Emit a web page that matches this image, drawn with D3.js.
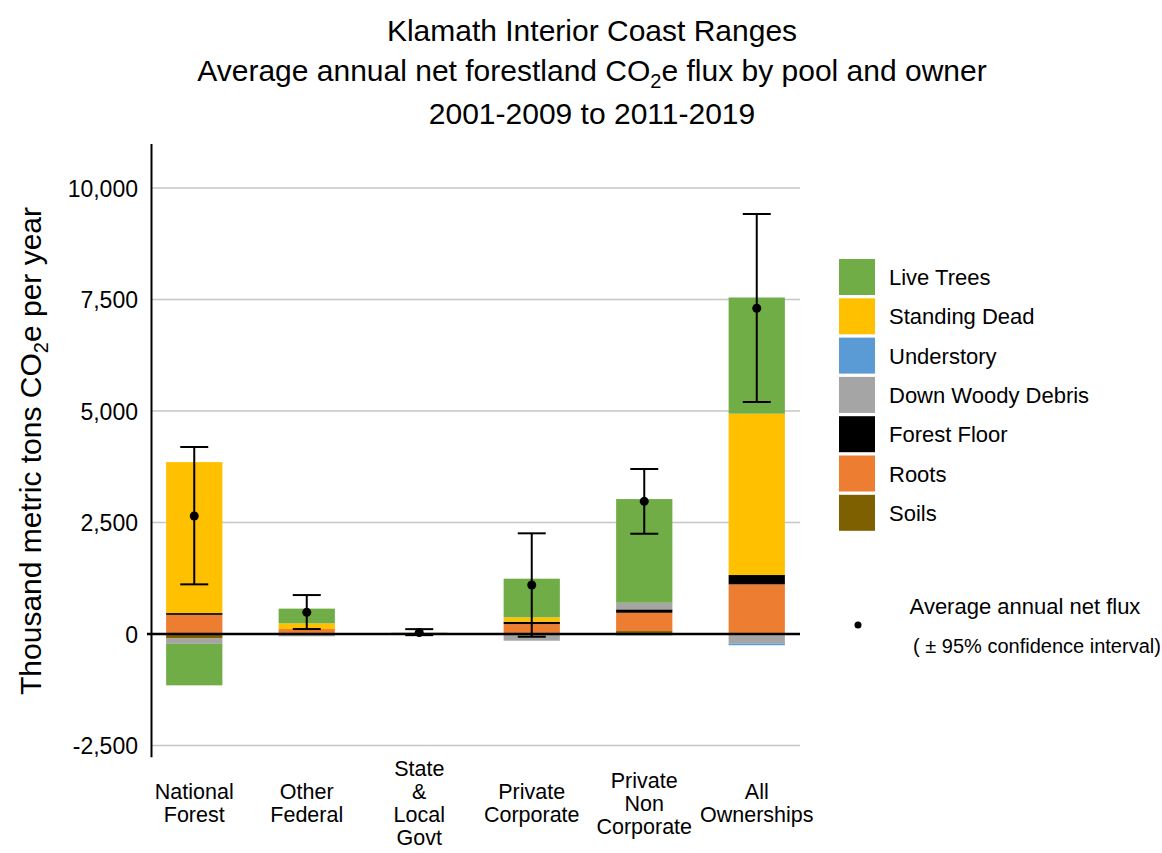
<!DOCTYPE html>
<html>
<head>
<meta charset="utf-8">
<script src="https://cdn.jsdelivr.net/npm/d3@7"></script>
<style>
  html, body { margin: 0; padding: 0; background: #fff; }
  svg text { font-family: "Liberation Sans", Arial, sans-serif; fill: #000; }
</style>
</head>
<body>
<svg id="chart" width="1162" height="853"></svg>
<script>
// Ownership groups and their multi-line axis labels
const owners = ["National Forest", "Other Federal", "State & Local Govt", "Private Corporate", "Private Non Corporate", "All Ownerships"];
const ownerLabelLines = [["National", "Forest"], ["Other", "Federal"], ["State", "&", "Local", "Govt"], ["Private", "Corporate"], ["Private", "Non", "Corporate"], ["All", "Ownerships"]];

// Net flux by carbon pool (thousand metric tons CO2e per year), one value per owner
const liveTrees       = [-930, 330, 22, 866, 2325, 2605];
const standingDead    = [3385, 128, 8, 99, 0, 3617];
const understory      = [0, 0, 0, 0, -30, -40];
const downWoodyDebris = [-120, -50, -10, -150, 148, -186];
const forestFloor     = [40, 0, 0, 52, 76, 209];
const roots           = [430, 112, 0, 224, 410, 1114];
const soils           = [-100, 0, 0, 0, 67, -25];

// Average annual net flux with 95% confidence bounds
const netFlux  = [2646, 487, 35, 1099, 2975, 7303];
const ciUpper  = [4193, 874, 110, 2258, 3700, 9417];
const ciLower  = [1114, 112, -25, -60, 2249, 5202];

// Y axis ticks
const yTicks = [-2500, 0, 2500, 5000, 7500, 10000];
const yTickLabels = ["-2,500", "0", "2,500", "5,000", "7,500", "10,000"];

// Pools in legend order, with colours
const poolNames  = ["Live Trees", "Standing Dead", "Understory", "Down Woody Debris", "Forest Floor", "Roots", "Soils"];
const poolValues = [liveTrees, standingDead, understory, downWoodyDebris, forestFloor, roots, soils];
const poolColors = ["#70AD47", "#FFC000", "#5B9BD5", "#A5A5A5", "#000000", "#ED7D31", "#7F6000"];

const svg = d3.select("#chart");

const x = d3.scaleBand().domain(owners).range([138, 813]).paddingInner(0.5).paddingOuter(0.25);
const y = d3.scaleLinear().domain([-2750, 11000]).range([756.7, 143.4]);
const color = d3.scaleOrdinal().domain(poolNames).range(poolColors);

// Rows for stacking: one object per owner
const rows = owners.map((o, i) => {
  const r = { owner: o };
  poolNames.forEach((p, k) => { r[p] = poolValues[k][i]; });
  return r;
});

// Stack from the ground up: soils nearest zero, live trees outermost
const stackKeys = poolNames.slice().reverse();
const series = d3.stack().keys(stackKeys).offset(d3.stackOffsetDiverging)(rows);

// Gridlines
const gridLeft = 151, gridRight = 800;
svg.append("g").selectAll("line")
  .data(yTicks.filter(d => d !== 0))
  .join("line")
  .attr("x1", gridLeft).attr("x2", gridRight)
  .attr("y1", d => y(d)).attr("y2", d => y(d))
  .attr("stroke", "#c6c6c6").attr("stroke-width", 1.6);

// Stacked bars
svg.append("g").selectAll("g")
  .data(series)
  .join("g")
  .attr("fill", s => color(s.key))
  .selectAll("rect")
  .data(s => s.map(d => ({ d, owner: d.data.owner })))
  .join("rect")
  .attr("x", v => x(v.owner))
  .attr("width", x.bandwidth())
  .attr("y", v => y(Math.max(v.d[0], v.d[1])))
  .attr("height", v => Math.abs(y(v.d[0]) - y(v.d[1])));

// Zero line
svg.append("line")
  .attr("x1", 147).attr("x2", gridRight)
  .attr("y1", y(0)).attr("y2", y(0))
  .attr("stroke", "#000").attr("stroke-width", 2.5);

// Y axis
const yAxis = d3.axisLeft(y)
  .tickValues(yTicks)
  .tickFormat((d, i) => yTickLabels[i])
  .tickSize(0)
  .tickPadding(13);
const yAxisG = svg.append("g").attr("transform", `translate(${gridLeft},0)`).call(yAxis);
yAxisG.select(".domain").attr("stroke", "#000").attr("stroke-width", 2);
yAxisG.selectAll("text")
  .attr("font-size", 23)
  .attr("font-family", "Liberation Sans, Arial, sans-serif")
  .attr("fill", "#000")
  .attr("dy", "0.35em");

// Error bars and mean points
const cap = 14;
const eb = svg.append("g").attr("stroke", "#000").attr("stroke-width", 2);
owners.forEach((o, i) => {
  const cx = x(o) + x.bandwidth() / 2;
  eb.append("line").attr("x1", cx).attr("x2", cx).attr("y1", y(ciUpper[i])).attr("y2", y(ciLower[i]));
  eb.append("line").attr("x1", cx - cap).attr("x2", cx + cap).attr("y1", y(ciUpper[i])).attr("y2", y(ciUpper[i]));
  eb.append("line").attr("x1", cx - cap).attr("x2", cx + cap).attr("y1", y(ciLower[i])).attr("y2", y(ciLower[i]));
});
svg.append("g").selectAll("circle")
  .data(owners)
  .join("circle")
  .attr("cx", o => x(o) + x.bandwidth() / 2)
  .attr("cy", (o, i) => y(netFlux[i]))
  .attr("r", 4.5)
  .attr("fill", "#000");

// X category labels
const lineGap = 23, labelCenter = 803;
svg.append("g").selectAll("text")
  .data(owners)
  .join("text")
  .attr("text-anchor", "middle")
  .attr("font-size", 21.5)
  .each(function (o, i) {
    const lines = ownerLabelLines[i];
    const top = labelCenter - (lines.length - 1) * lineGap / 2;
    d3.select(this).selectAll("tspan")
      .data(lines)
      .join("tspan")
      .attr("x", x(o) + x.bandwidth() / 2)
      .attr("y", (l, k) => top + k * lineGap + 7.5)
      .text(l => l);
  });

// Y axis title
const yTitle = svg.append("text")
  .attr("transform", "translate(41,451) rotate(-90)")
  .attr("text-anchor", "middle")
  .attr("font-size", 30);
yTitle.append("tspan").text("Thousand metric tons CO");
yTitle.append("tspan").attr("font-size", 20).attr("dy", 7).text("2");
yTitle.append("tspan").attr("dy", -7).text("e per year");

// Chart title
const titleX = 592;
svg.append("text").attr("x", titleX).attr("y", 41).attr("text-anchor", "middle").attr("font-size", 30)
  .text("Klamath Interior Coast Ranges");
const t2 = svg.append("text").attr("x", titleX).attr("y", 81).attr("text-anchor", "middle").attr("font-size", 30);
t2.append("tspan").text("Average annual net forestland CO");
t2.append("tspan").attr("font-size", 20).attr("dy", 7).text("2");
t2.append("tspan").attr("dy", -7).text("e flux by pool and owner");
svg.append("text").attr("x", titleX).attr("y", 124).attr("text-anchor", "middle").attr("font-size", 30)
  .text("2001-2009 to 2011-2019");

// Legend: pools
const legend = svg.append("g");
const swX = 839, swY0 = 259, swStep = 39.3, swSize = 36;
legend.selectAll("rect")
  .data(poolNames)
  .join("rect")
  .attr("x", swX).attr("y", (d, i) => swY0 + i * swStep)
  .attr("width", swSize).attr("height", swSize)
  .attr("fill", d => color(d));
legend.selectAll("text")
  .data(poolNames)
  .join("text")
  .attr("x", 889).attr("y", (d, i) => swY0 + i * swStep + swSize / 2 + 8)
  .attr("font-size", 22)
  .text(d => d);

// Legend: mean point with confidence interval
svg.append("circle").attr("cx", 858).attr("cy", 625).attr("r", 3.5).attr("fill", "#000");
svg.append("text").attr("x", 1025).attr("y", 614).attr("text-anchor", "middle").attr("font-size", 22)
  .text("Average annual net flux");
svg.append("text").attr("x", 1037).attr("y", 653).attr("text-anchor", "middle").attr("font-size", 20)
  .text("( \u00B1 95% confidence interval)");
</script>
</body>
</html>
